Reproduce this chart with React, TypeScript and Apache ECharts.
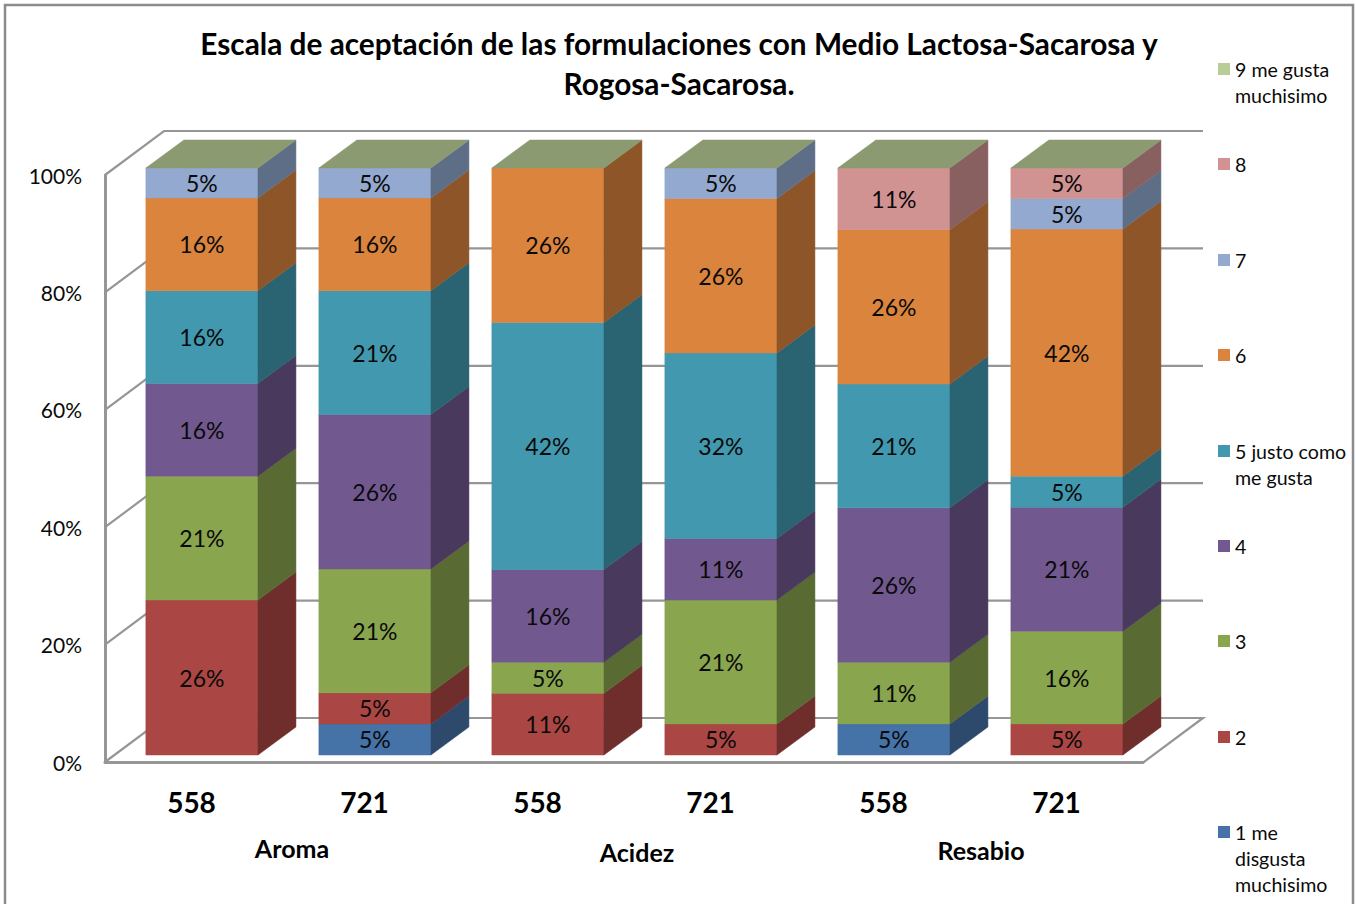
import React, { useEffect, useRef } from "react";
import * as echarts from "echarts";

const categories = ["558", "721", "558", "721", "558", "721"];
const groupLabels = ["Aroma", "Acidez", "Resabio"];
const seriesNames = ["1 me\ndisgusta\nmuchisimo", "2", "3", "4", "5 justo como\nme gusta", "6", "7", "8", "9 me gusta\nmuchisimo"];
const s1 = [0, 5.3, 0, 0, 5.3, 0];
const s2 = [26.4, 5.3, 10.5, 5.3, 0, 5.3];
const s3 = [21.1, 21.1, 5.3, 21.1, 10.5, 15.8];
const s4 = [15.8, 26.3, 15.8, 10.5, 26.3, 21.1];
const s5 = [15.8, 21.1, 42.1, 31.6, 21.1, 5.3];
const s6 = [15.8, 15.8, 26.3, 26.3, 26.3, 42.1];
const s7 = [5.1, 5.1, 0, 5.2, 0, 5.2];
const s8 = [0, 0, 0, 0, 10.5, 5.2];
const s9 = [0, 0, 0, 0, 0, 0];
const allSeries = [s1, s2, s3, s4, s5, s6, s7, s8, s9];
const yTicks = [0, 20, 40, 60, 80, 100];

const frontColors = ["#4572A7", "#AA4643", "#89A54E", "#71588F", "#4198AF", "#DB843D", "#93A9CF", "#D19392", "#B9CD96"];
const sideColors = ["#2D4A6D", "#6F2E2C", "#596B33", "#49395D", "#2A6372", "#8E5628", "#5F6E87", "#886060", "#78855F"];
const topColor = "#8B9A70";
const FONT = "Lato";
const GREY = "#969696";

const legendY = [832, 737, 641, 546, 451, 355, 260, 164, 69];
const groupPos = [[292, 848], [637, 852], [981, 850]];

// 3D projection of the drawing
const WALL_DX = 59, WALL_DY = -44, WALL_EXTRA = 1;
const BAR_DX = 38, BAR_DY = -28;
const FRONT_SHIFT_X = 10.4, FRONT_SHIFT_Y = -7;

export default function App() {
  const ref = useRef<HTMLDivElement>(null);
  useEffect(() => {
    document.body.style.margin = "0";
    document.body.style.overflow = "hidden";
    const chart = echarts.init(ref.current!, undefined, { renderer: "svg" });

    const wallSeries: any = {
      type: "custom",
      name: "wall",
      silent: true,
      z: 1,
      data: yTicks.map((t) => [0, t]),
      encode: { x: 0, y: 1 },
      renderItem: (params: any, api: any) => {
        const cs = params.coordSys;
        const y = api.coord([0, api.value(1)])[1];
        const x0 = cs.x, x1 = cs.x + cs.width + WALL_EXTRA;
        const pts = [[x0, y], [x0 + WALL_DX, y + WALL_DY], [x1 + WALL_DX, y + WALL_DY]];
        if (api.value(1) === 0) pts.push([x1, y], [x0, y]);
        return { type: "polyline", shape: { points: pts }, style: { stroke: GREY, lineWidth: 2.2, fill: "none" } };
      },
    };

    const barSeries: any[] = allSeries.map((vals, si) => ({
      type: "custom",
      name: seriesNames[si],
      z: 3,
      silent: true,
      encode: { x: 0, y: [1, 2] },
      data: vals.map((v, i) => {
        let base = 0;
        for (let k = 0; k < si; k++) base += allSeries[k][i];
        return [i, base, v];
      }),
      renderItem: (params: any, api: any) => {
        const i = api.value(0), base = api.value(1), v = api.value(2);
        const isTop = si === allSeries.length - 1;
        if (!v && !isTop) return null;
        const bw = api.size([1, 0])[0] * 0.648;
        const [cx, y0raw] = api.coord([i, base]);
        const [, y1raw] = api.coord([i, base + v]);
        const xc = cx + FRONT_SHIFT_X;
        const l = xc - bw / 2, r = xc + bw / 2;
        const y0 = y0raw + FRONT_SHIFT_Y, y1 = y1raw + FRONT_SHIFT_Y;
        const children: any[] = [];
        if (isTop) {
          children.push({
            type: "polygon",
            shape: { points: [[l, y1], [r, y1], [r + BAR_DX, y1 + BAR_DY], [l + BAR_DX, y1 + BAR_DY]] },
            style: { fill: topColor, stroke: topColor, lineWidth: 0.5 },
          });
        }
        if (v) {
          children.push({
            type: "polygon",
            shape: { points: [[l, y0], [r, y0], [r, y1], [l, y1]] },
            style: { fill: frontColors[si], stroke: frontColors[si], lineWidth: 0.5 },
          });
          children.push({
            type: "polygon",
            shape: { points: [[r, y0], [r + BAR_DX, y0 + BAR_DY], [r + BAR_DX, y1 + BAR_DY], [r, y1]] },
            style: { fill: sideColors[si], stroke: sideColors[si], lineWidth: 0.5 },
          });
          children.push({
            type: "text",
            x: xc,
            y: (y0 + y1) / 2,
            style: {
              text: Math.round(v) + "%",
              textAlign: "center",
              textVerticalAlign: "middle",
              fontFamily: FONT,
              fontSize: 23,
              fill: "#0A0A0A",
            },
          });
        }
        return { type: "group", children };
      },
    }));

    const legendGraphics: any[] = [];
    seriesNames.forEach((name, i) => {
      legendGraphics.push({
        type: "rect",
        shape: { x: 1218, y: legendY[i] - 6, width: 12, height: 12 },
        style: { fill: frontColors[i] },
      });
      legendGraphics.push({
        type: "text",
        x: 1235,
        y: legendY[i] - 13,
        style: { text: name, fontFamily: FONT, fontSize: 19.6, lineHeight: 26, fill: "#0A0A0A" },
      });
    });

    chart.setOption({
      animation: false,
      backgroundColor: "#ffffff",
      title: {
        text: "Escala de aceptación de las formulaciones con Medio Lactosa-Sacarosa y\nRogosa-Sacarosa.",
        left: 674,
        top: 19,
        textAlign: "center",
        textStyle: { fontFamily: FONT, fontWeight: "bold", fontSize: 29.8, lineHeight: 39.5, color: "#000000" },
      },
      grid: { left: 105, top: 175, width: 1038, height: 587, containLabel: false },
      xAxis: {
        type: "category",
        data: categories,
        axisLine: { lineStyle: { color: GREY, width: 3 } },
        axisTick: { show: false },
        axisLabel: { margin: 26, fontFamily: FONT, fontWeight: "bold", fontSize: 28, color: "#000000", interval: 0 },
      },
      yAxis: {
        type: "value",
        min: 0,
        max: 100,
        interval: 20,
        axisLine: { show: true, lineStyle: { color: GREY, width: 3 } },
        axisTick: { show: false },
        splitLine: { show: false },
        axisLabel: { formatter: "{value}%", margin: 23, fontFamily: FONT, fontSize: 21, color: "#0A0A0A" },
      },
      series: [wallSeries, ...barSeries],
      graphic: [
        {
          type: "rect",
          shape: { x: 5, y: 5, width: 1348, height: 930 },
          style: { fill: "none", stroke: "#8C8C8C", lineWidth: 2.5 },
          z: 0,
        },
        ...groupLabels.map((g, i) => ({
          type: "text",
          x: groupPos[i][0],
          y: groupPos[i][1],
          style: {
            text: g,
            textAlign: "center",
            textVerticalAlign: "middle",
            fontFamily: FONT,
            fontWeight: "bold",
            fontSize: 25,
            fill: "#000000",
          },
        })),
        ...legendGraphics,
      ],
    });
    return () => chart.dispose();
  }, []);
  return <div ref={ref} style={{ position: "fixed", left: 0, top: 0, width: 1356, height: 904 }} />;
}
